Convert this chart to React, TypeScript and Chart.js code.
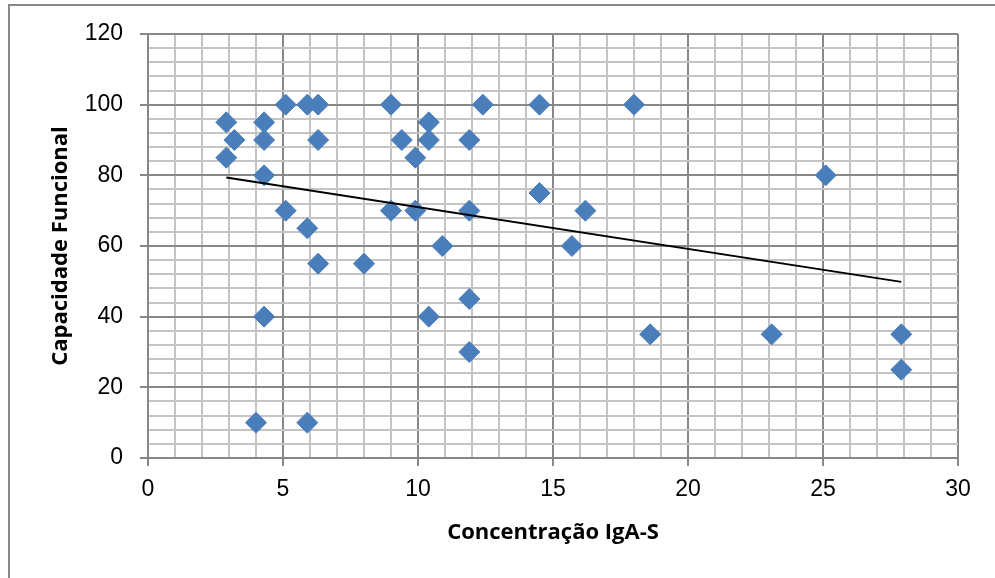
import React, { useEffect, useRef } from 'react';
import { Chart, registerables } from 'chart.js';

Chart.register(...registerables);

// Concentração IgA-S (x) and Capacidade Funcional (y)
const igaS = [
  2.9, 2.9, 3.2, 4.3, 4.3, 4.3, 4.3, 4.0, 5.1, 5.1,
  5.9, 6.3, 6.3, 5.9, 6.3, 5.9, 8.0, 9.0, 9.0, 9.4,
  9.9, 9.9, 10.4, 10.4, 10.4, 10.9, 11.9, 11.9, 11.9, 11.9,
  12.4, 14.5, 14.5, 15.7, 16.2, 18.0, 18.6, 23.1, 25.1, 27.9,
  27.9,
];
const capacidade = [
  95, 85, 90, 95, 90, 80, 40, 10, 100, 70,
  100, 100, 90, 65, 55, 10, 55, 100, 70, 90,
  85, 70, 95, 90, 40, 60, 90, 70, 45, 30,
  100, 100, 75, 60, 70, 100, 35, 35, 80, 35,
  25,
];

const xAxisTitle = 'Concentração IgA-S';
const yAxisTitle = 'Capacidade Funcional';
const xMin = 0, xMax = 30, xStep = 1, xLabelEvery = 5;
const yMin = 0, yMax = 120, yStep = 4, yLabelEvery = 20;

function linearFit(xs: number[], ys: number[]) {
  const n = xs.length;
  const mx = xs.reduce((a, b) => a + b, 0) / n;
  const my = ys.reduce((a, b) => a + b, 0) / n;
  let sxy = 0, sxx = 0;
  for (let i = 0; i < n; i++) {
    sxy += (xs[i] - mx) * (ys[i] - my);
    sxx += (xs[i] - mx) * (xs[i] - mx);
  }
  const b = sxy / sxx;
  const a = my - b * mx;
  return { a, b };
}

const MAJOR = '#878787';
const MINOR = '#c4c4c4';
const TITLE_FONT = '"Open Sans", Lato, sans-serif';

export default function App() {
  const ref = useRef<HTMLCanvasElement | null>(null);

  useEffect(() => {
    if (!ref.current) return;
    const points = igaS.map((x, i) => ({ x, y: capacidade[i] }));
    const { a, b } = linearFit(igaS, capacidade);
    const x0 = Math.min(...igaS);
    const x1 = Math.max(...igaS);
    const trend = [
      { x: x0, y: a + b * x0 },
      { x: x1, y: a + b * x1 },
    ];

    const chart = new Chart(ref.current, {
      type: 'scatter',
      data: {
        datasets: [
          {
            type: 'line',
            label: 'Linear',
            data: trend,
            borderColor: '#000000',
            borderWidth: 2,
            pointRadius: 0,
            fill: false,
            order: 0,
          } as any,
          {
            label: 'Capacidade Funcional',
            data: points,
            pointStyle: 'rectRot',
            pointRadius: 10.5,
            pointBackgroundColor: '#4A7EBB',
            pointBorderColor: '#4A7EBB',
            pointBorderWidth: 1,
            order: 1,
          },
        ],
      },
      options: {
        responsive: false,
        animation: false,
        layout: { padding: { top: 34, right: 37, left: 0, bottom: 0 } },
        plugins: {
          legend: { display: false },
          tooltip: { enabled: false },
        },
        scales: {
          x: {
            type: 'linear',
            min: xMin,
            max: xMax,
            afterFit: (s: any) => { s.height = 120; },
            ticks: {
              stepSize: xStep,
              autoSkip: false,
              maxRotation: 0,
              padding: 10,
              color: '#000000',
              font: { family: '"Liberation Sans", Arial, sans-serif', size: 23 },
              callback: (v: any) => (Number(v) % xLabelEvery === 0 ? String(v) : ''),
            },
            grid: {
              color: (c: any) => (c.tick && c.tick.value % xLabelEvery === 0 ? MAJOR : MINOR),
              tickColor: (c: any) => (c.tick && c.tick.value % xLabelEvery === 0 ? MAJOR : 'rgba(0,0,0,0)'),
              lineWidth: 2,
              tickLength: 8,
            },
            border: { color: MAJOR, width: 2 },
            title: {
              display: true,
              text: xAxisTitle,
              color: '#000000',
              font: { family: TITLE_FONT, size: 22, weight: 'bold' },
              padding: { top: 0, bottom: 32 },
            },
          },
          y: {
            type: 'linear',
            min: yMin,
            max: yMax,
            afterFit: (s: any) => { s.width = 148; },
            ticks: {
              stepSize: yStep,
              autoSkip: false,
              padding: 17,
              color: '#000000',
              font: { family: '"Liberation Sans", Arial, sans-serif', size: 23 },
              callback: (v: any) => (Number(v) % yLabelEvery === 0 ? String(v) : ''),
            },
            grid: {
              color: (c: any) => (c.tick && c.tick.value % yLabelEvery === 0 ? MAJOR : MINOR),
              tickColor: (c: any) => (c.tick && c.tick.value % yLabelEvery === 0 ? MAJOR : 'rgba(0,0,0,0)'),
              lineWidth: 2,
              tickLength: 8,
            },
            border: { color: MAJOR, width: 2 },
            title: {
              display: true,
              text: yAxisTitle,
              color: '#000000',
              font: { family: TITLE_FONT, size: 22, weight: 'bold' },
              padding: { top: 48, bottom: 0 },
            },
          },
        },
      },
    });
    return () => chart.destroy();
  }, []);

  return (
    <div style={{ position: 'absolute', left: 0, top: 0, width: 995, height: 578, overflow: 'hidden', background: '#ffffff' }}>
      <div
        style={{
          position: 'absolute',
          left: 8,
          top: 4,
          width: 1000,
          height: 600,
          border: '2px solid #888888',
          boxSizing: 'border-box',
        }}
      />
      <canvas ref={ref} width={995} height={578} style={{ position: 'absolute', left: 0, top: 0, width: 995, height: 578 }} />
    </div>
  );
}
